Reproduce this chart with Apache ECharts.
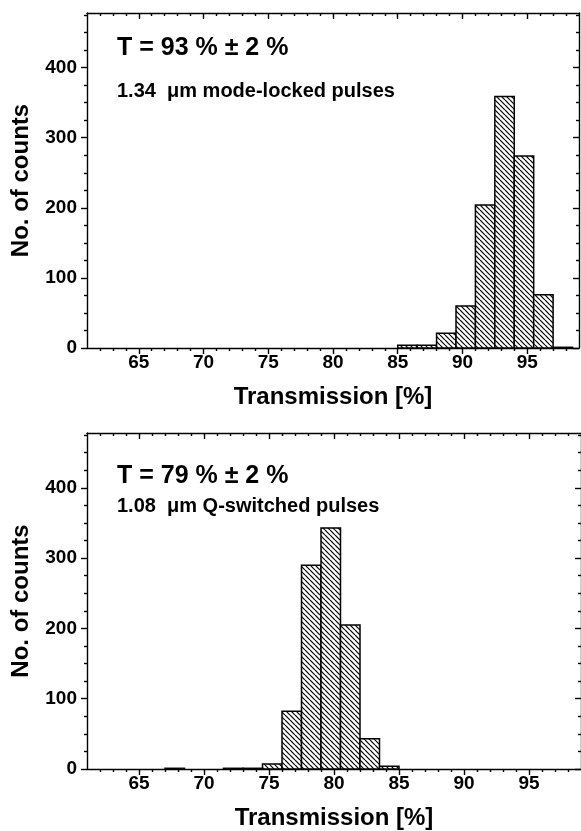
<!DOCTYPE html>
<html><head><meta charset="utf-8">
<script src="https://cdn.jsdelivr.net/npm/echarts@6/dist/echarts.min.js"></script>
<style>html,body{margin:0;padding:0;background:#fff}#c{width:581px;height:831px}</style>
</head><body><div id="c"></div>
<script>
// ---- data ----
const binWidth = 1.5;
const topBinStart = [85, 86.5, 88, 89.5, 91, 92.5, 94, 95.5, 97];
const topCounts   = [4, 4, 21, 60, 204, 359, 274, 76, 1];
const bottomBinStart = [67, 71.5, 73, 74.5, 76, 77.5, 79, 80.5, 82, 83.5];
const bottomCounts   = [1, 1, 1, 7, 82, 290, 343, 205, 43, 4];
const xMajorTicks = [65, 70, 75, 80, 85, 90, 95];
const xMinorTicks = [62, 63, 64, 66, 67, 68, 69, 71, 72, 73, 74, 76, 77, 78, 79, 81, 82, 83, 84, 86, 87, 88, 89, 91, 92, 93, 94, 96, 97, 98];
const yMajorTicks = [0, 100, 200, 300, 400];
const yMinorTicks = [25, 50, 75, 125, 150, 175, 225, 250, 275, 325, 350, 375, 425, 450, 475];
const topTitle = 'T = 93 % \u00b1 2 %';
const topSub = '1.34  \u03bcm mode-locked pulses';
const bottomTitle = 'T = 79 % \u00b1 2 %';
const bottomSub = '1.08  \u03bcm Q-switched pulses';
const xName = 'Transmission [%]';
const yName = 'No. of counts';

const FF = '"Liberation Sans", Arial, sans-serif';
function makePattern() {
  const s = 5;
  const c = document.createElement('canvas');
  c.width = s; c.height = s;
  const g = c.getContext('2d');
  g.fillStyle = '#fff'; g.fillRect(0, 0, s, s);
  g.strokeStyle = '#000'; g.lineWidth = 1.2;
  for (const k of [-1, 0, 1]) {
    g.beginPath(); g.moveTo(k * s, 0); g.lineTo(k * s + s, s); g.stroke();
  }
  return c;
}
const pattern = { image: makePattern(), repeat: 'repeat' };
const line = { color: '#000', width: 1.4 };

function xAxes(g) {
  const base = { type: 'value', gridIndex: g, min: 61, max: 99, splitLine: { show: false } };
  return [
    Object.assign({}, base, {
      position: 'bottom',
      axisLine: { show: true, onZero: false, lineStyle: line },
      axisTick: { show: true, customValues: xMajorTicks, length: 6, inside: false, lineStyle: line },
      axisLabel: { show: true, customValues: xMajorTicks, color: '#000', fontWeight: 'bold', fontSize: 19, fontFamily: FF, margin: 5 },
      name: xName, nameLocation: 'middle', nameGap: 37,
      nameTextStyle: { color: '#000', fontWeight: 'bold', fontSize: 24, fontFamily: FF }
    }),
    Object.assign({}, base, {
      position: 'bottom',
      axisLine: { show: false, onZero: false },
      axisTick: { show: true, customValues: xMinorTicks, length: 3, inside: false, lineStyle: line },
      axisLabel: { show: false }
    }),
    Object.assign({}, base, {
      position: 'top',
      axisLine: { show: true, onZero: false, lineStyle: line },
      axisTick: { show: true, customValues: xMajorTicks, length: 6, inside: true, lineStyle: line },
      axisLabel: { show: false }
    }),
    Object.assign({}, base, {
      position: 'top',
      axisLine: { show: false, onZero: false },
      axisTick: { show: true, customValues: xMinorTicks, length: 3, inside: true, lineStyle: line },
      axisLabel: { show: false }
    })
  ];
}
function yAxes(g) {
  const base = { type: 'value', gridIndex: g, min: 0, max: 478, splitLine: { show: false } };
  return [
    Object.assign({}, base, {
      position: 'left',
      axisLine: { show: true, onZero: false, lineStyle: line },
      axisTick: { show: true, customValues: yMajorTicks, length: 6, inside: false, lineStyle: line },
      axisLabel: { show: true, customValues: yMajorTicks, color: '#000', fontWeight: 'bold', fontSize: 19, fontFamily: FF, margin: 10 },
      name: yName, nameLocation: 'middle', nameGap: 54,
      nameTextStyle: { color: '#000', fontWeight: 'bold', fontSize: 24, fontFamily: FF }
    }),
    Object.assign({}, base, {
      position: 'left',
      axisLine: { show: false, onZero: false },
      axisTick: { show: true, customValues: yMinorTicks, length: 3, inside: false, lineStyle: line },
      axisLabel: { show: false }
    }),
    Object.assign({}, base, {
      position: 'right',
      axisLine: { show: true, onZero: false, lineStyle: line },
      axisTick: { show: true, customValues: yMajorTicks, length: 6, inside: true, lineStyle: line },
      axisLabel: { show: false }
    }),
    Object.assign({}, base, {
      position: 'right',
      axisLine: { show: false, onZero: false },
      axisTick: { show: true, customValues: yMinorTicks, length: 3, inside: true, lineStyle: line },
      axisLabel: { show: false }
    })
  ];
}
function renderBin(params, api) {
  const x0 = api.value(0), x1 = api.value(1), y = api.value(2);
  const p0 = api.coord([x0, y]);
  const p1 = api.coord([x1, 0]);
  return {
    type: 'rect',
    shape: { x: p0[0], y: p0[1], width: p1[0] - p0[0], height: p1[1] - p0[1] },
    style: { fill: pattern, stroke: '#000', lineWidth: 1.5 }
  };
}
function series(idx, starts, counts) {
  return {
    type: 'custom', xAxisIndex: idx * 4, yAxisIndex: idx * 4,
    encode: { x: [0, 1], y: 2 },
    data: starts.map((s, i) => [s, s + binWidth, counts[i]]),
    renderItem: renderBin, clip: true
  };
}
const txt = (text, left, top, size) => ({ text, left, top, textStyle: { color: '#000', fontWeight: 'bold', fontSize: size, fontFamily: FF } });

const chart = echarts.init(document.getElementById('c'), null, { renderer: 'canvas' });
chart.setOption({
  animation: false,
  backgroundColor: '#fff',
  title: [
    txt(topTitle, 112, 31, 25),
    txt(topSub, 112, 76, 20),
    txt(bottomTitle, 112, 459, 25),
    txt(bottomSub, 112, 491, 20)
  ],
  grid: [
    { left: 87, top: 13, width: 492, height: 335 },
    { left: 87, top: 433, width: 497, height: 338 }
  ],
  xAxis: xAxes(0).concat(xAxes(1)),
  yAxis: yAxes(0).concat(yAxes(1)),
  series: [series(0, topBinStart, topCounts), series(1, bottomBinStart, bottomCounts)]
});
</script></body></html>
